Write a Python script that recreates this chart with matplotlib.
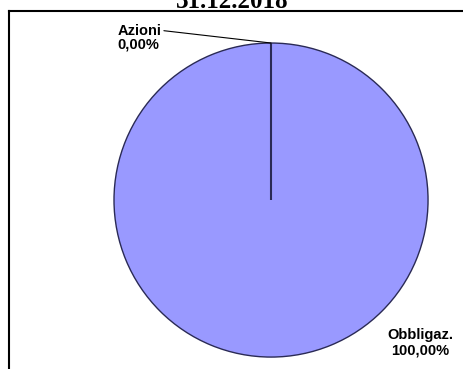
import matplotlib.pyplot as plt
from matplotlib.lines import Line2D

titolo = "31.12.2018"
categorie = ["Azioni", "Obbligaz."]
percentuali = [0.0, 100.0]
colori = ["#9999FF", "#9999FF"]

def fmt(v):
    return f"{v:.2f}".replace(".", ",") + "%"

fig = plt.figure(figsize=(4.64, 3.69), dpi=100)
ax = fig.add_axes([0, 0, 1, 1])

# torta: centro (0,0), raggio 1; limiti scelti per la posizione nel riquadro
ax.pie(percentuali, colors=colori, startangle=90, counterclock=False,
       wedgeprops=dict(edgecolor="#2a2a55", linewidth=1.0), radius=1.0)
ax.plot([0, 0], [0, 1], color="#2a2a55", lw=1.5, solid_capstyle="butt")
ax.set_xlim(-1.726, 1.229)
ax.set_ylim(-1.076, 1.274)
ax.set_aspect("equal")
ax.axis("off")

# etichette
ax.annotate(f"{categorie[0]}\n{fmt(percentuali[0])}", xy=(0, 1.0),
            xytext=(-0.70, 1.035), ha="right", va="center",
            fontsize=10.5, fontweight="bold", family="Liberation Sans",
            linespacing=1.0, multialignment="left",
            arrowprops=dict(arrowstyle="-", color="black", lw=0.8,
                            shrinkA=0, shrinkB=0, relpos=(1.03, 0.75)))
ax.text(0.95, -0.91, f"{categorie[1]}\n{fmt(percentuali[1])}", ha="center", va="center",
        fontsize=10.5, fontweight="bold", family="Liberation Sans", linespacing=1.15)

# riquadro
fig.add_artist(Line2D([9 / 464, 9 / 464], [0, 1 - 10.5 / 369], color="black", lw=1.5,
                      transform=fig.transFigure))
fig.add_artist(Line2D([9 / 464, 1], [1 - 10.5 / 369, 1 - 10.5 / 369], color="black", lw=1.5,
                      transform=fig.transFigure))

fig.text(232 / 464, 1 - 7.5 / 369, titolo, ha="center", va="baseline",
         fontsize=18, fontweight="bold", family="Liberation Serif")

fig.savefig("out.png", dpi=100)
